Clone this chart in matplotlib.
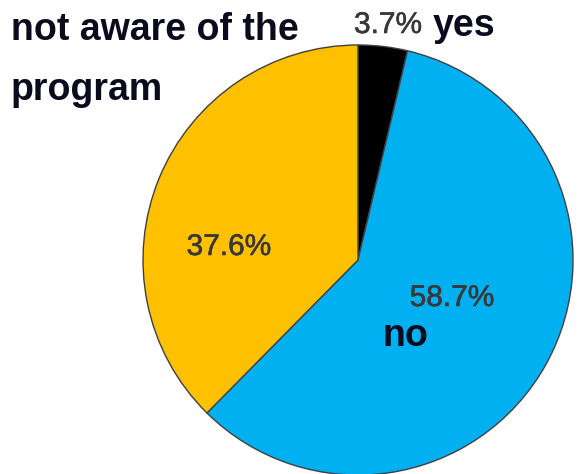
import matplotlib.pyplot as plt
import matplotlib.patheffects as pe

plt.rcParams['font.family'] = ['Liberation Sans', 'DejaVu Sans']

labels = ['yes', 'no', 'not aware of the\nprogram']
shares = [3.7, 58.7, 37.6]
colors = ['#000000', '#00B0F0', '#FFC000']

W, H = 577, 474
fig = plt.figure(figsize=(W / 100, H / 100), dpi=100)

# pie placed in pixel terms: centre (358, 260), radius 215
cx, cy, r = 358, 260, 215
ax = fig.add_axes([(cx - r) / W, (H - cy - r) / H, 2 * r / W, 2 * r / H])
ax.pie(shares, colors=colors, startangle=90, counterclock=False,
       wedgeprops=dict(edgecolor='#404040', linewidth=1))
ax.set_xlim(-1, 1)
ax.set_ylim(-1, 1)
ax.set_aspect('equal')
ax.axis('off')

pct_color = '#383838'
name_color = '#0b0b1e'
pct_size = 21.5
name_size = 27
# percentages drawn a touch heavier than regular weight
heavy = [pe.withStroke(linewidth=0.4, foreground=pct_color)]

def fx(x):
    return x / W

def fy(y):
    return 1 - y / H

fig.text(fx(354), fy(25), f'{shares[0]}%', fontsize=pct_size, color=pct_color,
         ha='left', va='center', path_effects=heavy)
fig.text(fx(433), fy(26), labels[0], fontsize=name_size, fontweight='bold',
         color=name_color, ha='left', va='center')

fig.text(fx(229), fy(247), f'{shares[2]}%', fontsize=pct_size, color=pct_color,
         ha='center', va='center', path_effects=heavy)
fig.text(fx(11), fy(60), labels[2], fontsize=name_size, fontweight='bold',
         color=name_color, ha='left', va='center', linespacing=1.88)

fig.text(fx(452), fy(298), f'{shares[1]}%', fontsize=pct_size, color=pct_color,
         ha='center', va='center', path_effects=heavy)
fig.text(fx(405), fy(336), labels[1], fontsize=name_size, fontweight='bold',
         color=name_color, ha='center', va='center')

fig.savefig('out.png', dpi=100)
